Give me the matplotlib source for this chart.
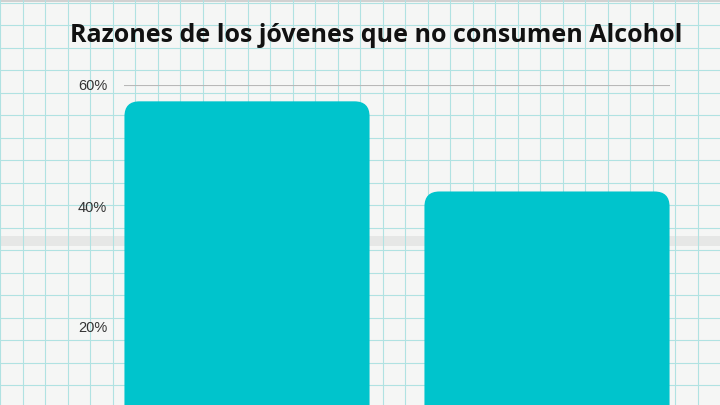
import numpy as np
import matplotlib.pyplot as plt
from matplotlib.patches import FancyBboxPatch

categories = ["Razón 1", "Razón 2"]
values = [57.3, 42.4]
yticks = [20, 40, 60]
title = "Razones de los jóvenes que no consumen Alcohol"

W, H = 720, 405
fig = plt.figure(figsize=(7.2, 4.05), dpi=100)
fig.patch.set_facecolor("#f5f6f5")

# graph paper background
bg = fig.add_axes([0, 0, 1, 1], zorder=0)
bg.set_xlim(0, W)
bg.set_ylim(H, 0)
bg.axis("off")
for x in np.arange(0.2, W, 22.5):
    bg.axvline(x, color="#b0e2e2", lw=0.8)
for y in np.arange(2.5, H, 22.5):
    bg.axhline(y, color="#b0e2e2", lw=0.8)
bg.axhspan(236, 246, color="#dcdedc", alpha=0.6, lw=0)
bg.axhspan(0, 2, color="#c8c8c8", alpha=0.8, lw=0)

# chart axes (extends below the figure, 0% is off-canvas)
left, right = 124 / W, 670 / W
top, bottom = 1 - 85 / H, 1 - 448 / H
ax = fig.add_axes([left, bottom, right - left, top - bottom], zorder=1)
ax.patch.set_alpha(0)
ax.set_xlim(-0.41, 1.41)
ax.set_ylim(0, 60)
for s in ax.spines.values():
    s.set_visible(False)
ax.set_yticks(yticks)
ax.set_yticklabels([f"{t}%" for t in yticks], fontsize=10.5, color="#333333",
                   family="Liberation Sans")
ax.tick_params(axis="y", length=0, pad=12)
ax.set_xticks([])
ax.axhline(yticks[-1], color="#b8b8b8", lw=0.8)

bars = ax.bar(range(len(values)), values, width=0.817, color="#00c4cc")
px_x = (right - left) * W / 1.82
px_y = (top - bottom) * H / 60
r = 15 / px_x
for b in bars:
    b.set_visible(False)
    p = FancyBboxPatch((b.get_x(), b.get_y()), b.get_width(), b.get_height(),
                       boxstyle=f"round,pad=0,rounding_size={r}",
                       mutation_aspect=px_x / px_y,
                       fc="#00c4cc", ec="none", zorder=3)
    ax.add_patch(p)

fig.text(376 / W, 1 - 35 / H, title, ha="center", va="center",
         fontsize=18, fontweight="bold", family="Open Sans", color="#111111")

fig.savefig("out.png", dpi=100)
